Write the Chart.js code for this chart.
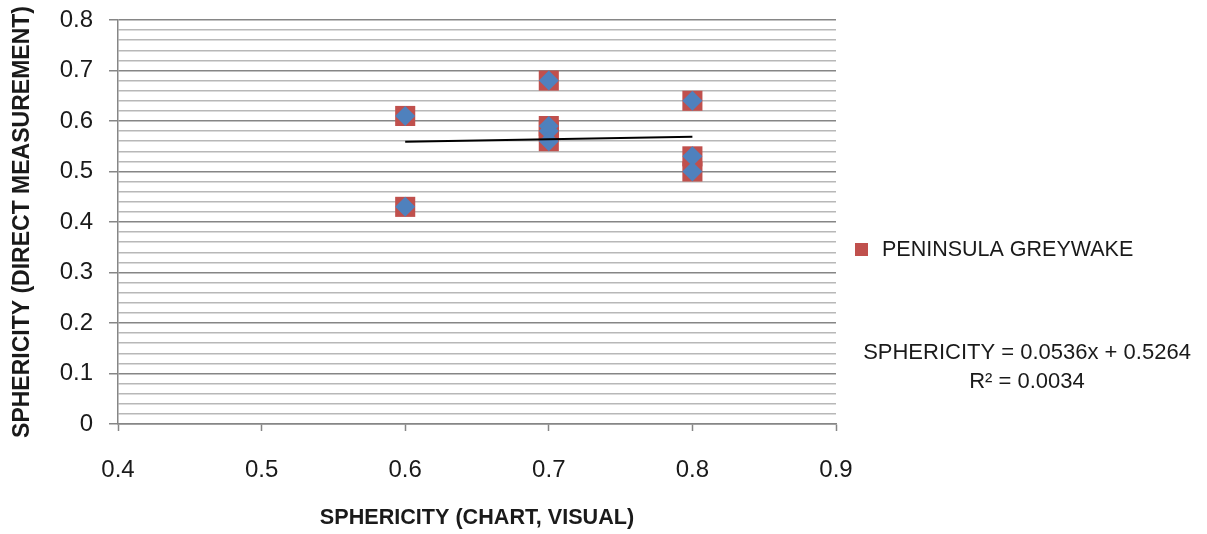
<!DOCTYPE html>
<html>
<head>
<meta charset="utf-8">
<script src="https://cdn.jsdelivr.net/npm/chart.js@4.4.0/dist/chart.umd.min.js"></script>
<style>
  html, body { margin: 0; padding: 0; background: #fff; }
  #wrap { width: 1207px; height: 534px; }
</style>
</head>
<body>
<div id="wrap"><canvas id="chart" width="1207" height="534"></canvas></div>
<script>
// values
const visualSphericity = [0.6, 0.6, 0.7, 0.7, 0.7, 0.7, 0.8, 0.8, 0.8];
const directSphericity = [0.61, 0.43, 0.68, 0.59, 0.58, 0.56, 0.64, 0.53, 0.50];
const trendX = [0.6, 0.8];
const trendY = [0.559, 0.569];
const seriesName = 'PENINSULA GREYWAKE';
const equationLines = ['SPHERICITY = 0.0536x + 0.5264', 'R\u00B2 = 0.0034'];
const xTitle = 'SPHERICITY (CHART, VISUAL)';
const yTitle = 'SPHERICITY (DIRECT MEASUREMENT)';

const FONT = '"Liberation Sans", Arial, sans-serif';
const TEXT = '#1a1a1a';
const MAJOR = '#868686';
const MINOR = '#b8b8b8';

const points = visualSphericity.map((x, i) => ({ x, y: directSphericity[i] }));
const trend = trendX.map((x, i) => ({ x, y: trendY[i] }));

const isMajor = (v) => Math.abs(v * 10 - Math.round(v * 10)) < 1e-6;

// legend + trendline label drawn at the right
const sideText = {
  id: 'sideText',
  afterDraw(chart) {
    const ctx = chart.ctx;
    const ds = chart.data.datasets.find(d => d.label === seriesName);
    ctx.save();
    ctx.fillStyle = ds.backgroundColor;
    ctx.fillRect(855, 243, 13, 13);
    ctx.fillStyle = TEXT;
    ctx.font = '21.5px ' + FONT;
    ctx.textBaseline = 'middle';
    ctx.textAlign = 'left';
    ctx.fillText(ds.label, 882, 250);
    ctx.font = '22px ' + FONT;
    ctx.textAlign = 'center';
    equationLines.forEach((line, i) => {
      ctx.fillText(line, 1027, 353 + i * 29);
    });
    ctx.restore();
  }
};

new Chart(document.getElementById('chart'), {
  type: 'scatter',
  data: {
    datasets: [
      {
        label: 'Linear trend',
        type: 'line',
        data: trend,
        borderColor: '#000000',
        borderWidth: 2,
        pointRadius: 0,
        fill: false
      },
      {
        label: 'direct',
        data: points,
        pointStyle: 'rectRot',
        pointRadius: 10,
        backgroundColor: '#4f81bd',
        borderColor: '#4f81bd',
        borderWidth: 0
      },
      {
        label: seriesName,
        data: points,
        pointStyle: 'rect',
        pointRadius: 14.2,
        backgroundColor: '#c0504d',
        borderColor: '#c0504d',
        borderWidth: 0
      }
    ]
  },
  options: {
    responsive: false,
    animation: false,
    layout: { padding: { top: 20, right: 371, bottom: 0, left: 0 } },
    plugins: {
      legend: { display: false },
      tooltip: { enabled: false }
    },
    scales: {
      x: {
        type: 'linear',
        min: 0.4,
        max: 0.9,
        afterFit: (scale) => { scale.height = 110; },
        ticks: {
          stepSize: 0.1,
          color: TEXT,
          padding: 25,
          font: { family: FONT, size: 24 },
          callback: (v) => Number(v.toFixed(1)).toString()
        },
        grid: {
          drawOnChartArea: false,
          drawTicks: true,
          tickLength: 7,
          tickColor: MAJOR,
          tickWidth: 1.5
        },
        border: { color: MAJOR, width: 1.5 },
        title: {
          display: true,
          text: xTitle,
          color: TEXT,
          font: { family: FONT, size: 21.6, weight: 'bold' },
          padding: { top: 0, bottom: 3 }
        }
      },
      y: {
        type: 'linear',
        min: 0,
        max: 0.8,
        afterFit: (scale) => {
          scale.width = 118;
          scale.paddingTop = 0;
          scale.paddingBottom = 0;
        },
        ticks: {
          stepSize: 0.02,
          autoSkip: false,
          color: TEXT,
          padding: 16,
          font: { family: FONT, size: 24 },
          callback: (v) => isMajor(v) ? Number(v.toFixed(1)).toString() : ''
        },
        grid: {
          color: (c) => isMajor(c.tick.value) ? MAJOR : MINOR,
          lineWidth: 1.5,
          tickLength: 9,
          tickColor: (c) => isMajor(c.tick.value) ? MAJOR : 'rgba(0,0,0,0)',
          tickWidth: 1.5
        },
        border: { color: MAJOR, width: 1.5 },
        title: {
          display: true,
          text: yTitle,
          color: TEXT,
          font: { family: FONT, size: 23, weight: 'bold' },
          padding: { top: 8.5, bottom: 0 }
        }
      }
    }
  },
  plugins: [sideText]
});
</script>
</body>
</html>
